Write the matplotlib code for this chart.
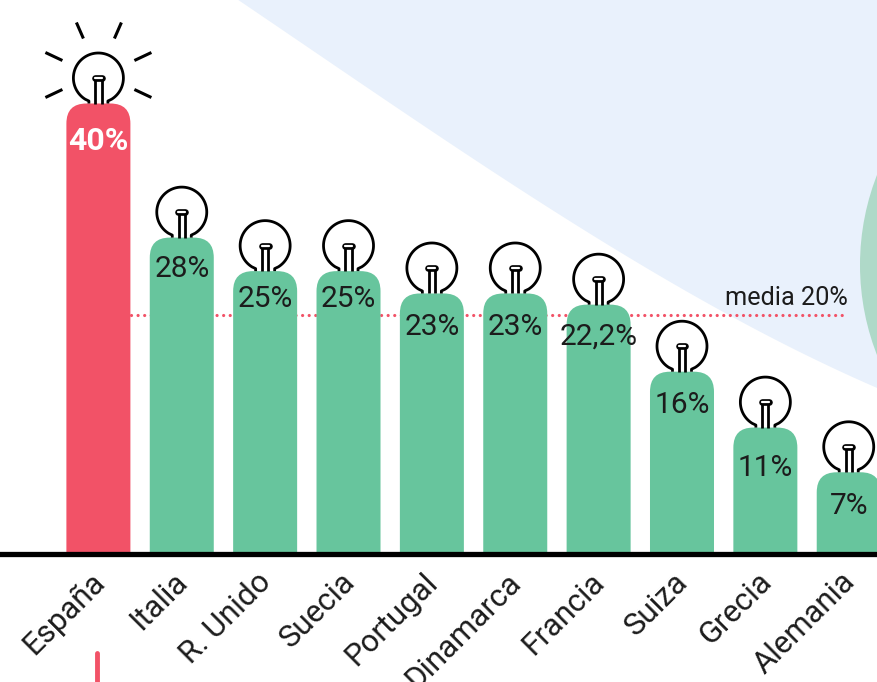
import numpy as np
import matplotlib
matplotlib.use("Agg")
import matplotlib.pyplot as plt
from matplotlib.path import Path
from matplotlib.patches import PathPatch, Circle, Polygon
from matplotlib.transforms import Affine2D

paises = ["España", "Italia", "R. Unido", "Suecia", "Portugal", "Dinamarca", "Francia", "Suiza", "Grecia", "Alemania"]
valores = [40, 28, 25, 25, 23, 23, 22, 16, 11, 7]
etiquetas = ["40%", "28%", "25%", "25%", "23%", "23%", "22,2%", "16%", "11%", "7%"]
media_pos = 21.1
media_txt = "media 20%"

# distance (px) from bar top to value label centre
label_off = [37, 31, 27.5, 27.5, 33.5, 33.5, 32, 33, 40, 33.5]

W, H = 877, 682
BASE, PXV, X0, DX = 550.5, 11.175, 98.4, 83.37
RED, GREEN, BLUE, TEAL = "#F25267", "#67C59D", "#E9F1FC", "#AFD9C8"
INK = "#1c1c1c"
FONT = ["Roboto", "DejaVu Sans"]

fig = plt.figure(figsize=(W/100, H/100), dpi=100)
ax = fig.add_axes([0, 0, 1, 1])
ax.set_xlim(-X0/DX, (W-X0)/DX)
ax.set_ylim((BASE-H)/PXV, BASE/PXV)
ax.axis("off")

px = Affine2D().scale(1/DX, -1/PXV)
def at(i, v):
    return px + Affine2D().translate(i, v) + ax.transData
page = Affine2D().scale(1/W, -1/H).translate(0, 1) + ax.transAxes

# background shapes
edge_x = [238, 400, 550, 633, 677, 837, 877]
edge_y = [0, 109, 210, 260, 285, 370, 388]
coef = np.polyfit(edge_x, edge_y, 3)
cx = np.linspace(238, 877, 80)
cy = np.polyval(coef, cx)
ax.add_patch(Polygon(np.c_[np.r_[cx, 877, 238], np.r_[cy, 0, 0]], closed=True, fc=BLUE, ec="none", transform=page, zorder=0))
ax.add_patch(Circle((1107, 265), 247, fc=TEAL, ec="none", transform=page, zorder=0.5))

def bar_path(i, v, w=32/DX, r=20, y0=-0.3):
    rx, ry = r/DX, r/PXV
    verts = [(i-w, y0), (i-w, v-ry), (i-w, v), (i-w+rx, v), (i+w-rx, v), (i+w, v), (i+w, v-ry), (i+w, y0), (i-w, y0)]
    codes = [Path.MOVETO, Path.LINETO, Path.CURVE3, Path.CURVE3, Path.LINETO, Path.CURVE3, Path.CURVE3, Path.LINETO, Path.CLOSEPOLY]
    return Path(verts, codes)

def bulb(i, v):
    tr = at(i, v)
    R, C = 25, -25.5
    ang = np.radians(np.linspace(238, -58, 80))
    xs = np.r_[-9.5, -9.5, R*np.cos(ang), 9.5, 9.5]
    ys = np.r_[0, -2.5, C - R*np.sin(ang), -2.5, 0]
    ax.plot(xs, ys, color="black", lw=2.0, transform=tr, zorder=4, solid_capstyle="butt", solid_joinstyle="round")
    for dx in (-3.1, 3.1):
        ax.plot([dx, dx], [0, -24], color="black", lw=2.0, transform=tr, zorder=4, solid_capstyle="butt")
    ax.plot([-3.4, 3.4], [C, C], color="black", lw=4.8, transform=tr, zorder=4, solid_capstyle="round")
    ax.plot([-3.4, 3.4], [C, C], color="white", lw=1.6, transform=tr, zorder=4.1, solid_capstyle="round")

# mean line
ax.plot([0.39, (843-X0)/DX], [media_pos, media_pos], color=RED, lw=2.3, ls=(0, (0.01, 2.05)),
        zorder=1, dash_capstyle="round")
ax.text((848-X0)/DX, (BASE-305)/PXV, media_txt, ha="right", va="baseline", fontsize=18.2, color=INK, family=FONT, zorder=2)

for i, (v, lab, name, off) in enumerate(zip(valores, etiquetas, paises, label_off)):
    c = RED if i == 0 else GREEN
    ax.add_patch(PathPatch(bar_path(i, v), fc=c, ec="none", zorder=3))
    bulb(i, v)
    ax.text(i, v - off/PXV, lab, ha="center", va="center", fontsize=23 if i == 0 else 21.5,
            color="white" if i == 0 else INK, fontweight="bold" if i == 0 else "normal", family=FONT, zorder=5)
    ax.text(i-0.105, -1.5, name, rotation=45, rotation_mode="anchor", ha="right", va="top", fontsize=22.4, color=INK, family=FONT, zorder=5)

# rays of the first bulb
rays = [((-22, -81), (-15, -65)), ((23, -81), (16, -65)), ((-53, -51), (-36, -43)), ((53, -51), (36, -43)), ((-53, -6), (-36, -14)), ((53, -6), (36, -14))]
for p, q in rays:
    ax.plot([p[0], q[0]], [p[1], q[1]], color="black", lw=2.2, transform=at(0, valores[0]), zorder=4, solid_capstyle="butt")

# axis line
ax.axhline((BASE-553.7)/PXV, color="black", lw=3.8, zorder=6)
# bottom tick
ax.plot([-0.02, -0.02], [(BASE-653)/PXV, (BASE-690)/PXV], color=RED, lw=3.5, solid_capstyle="round", zorder=5)

fig.savefig("out.png", dpi=100)
